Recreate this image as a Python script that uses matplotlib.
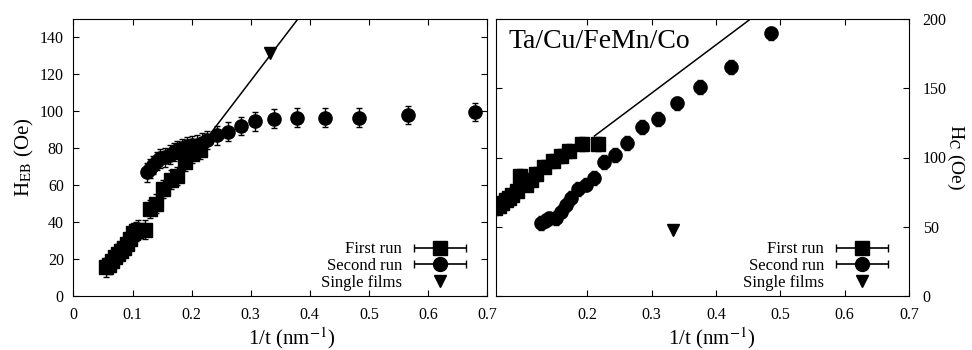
import numpy as np
import matplotlib
matplotlib.use('Agg')
import matplotlib.pyplot as plt
from matplotlib.container import ErrorbarContainer
from matplotlib.legend_handler import HandlerErrorbar

plt.rcParams['font.family'] = ['Liberation Serif', 'DejaVu Serif']
plt.rcParams['mathtext.fontset'] = 'stix'

# exchange bias, left panel
heb_first_x = [0.055, 0.06, 0.065, 0.07, 0.075, 0.08, 0.085, 0.09, 0.095, 0.10, 0.105, 0.11,
               0.121, 0.13, 0.14, 0.152, 0.165, 0.175, 0.189, 0.20, 0.214]
heb_first_y = [15.5, 17, 19, 21, 23, 24.5, 26, 28, 31, 34, 35, 36,
               36, 47, 50, 58, 63, 65, 72.5, 77, 79]
heb_second_x = [0.124, 0.13, 0.135, 0.141, 0.147, 0.155, 0.164, 0.17, 0.175, 0.183, 0.192, 0.2,
                0.209, 0.218, 0.226, 0.243, 0.262, 0.283, 0.308, 0.34, 0.378, 0.425, 0.484,
                0.567, 0.68]
heb_second_y = [67, 69, 71, 73, 74.5, 75, 76.5, 78, 79, 80, 81, 81.5,
                82, 83, 84.5, 87, 89, 92, 94.5, 96, 96.6, 96.6, 96.6,
                98, 99.5]
heb_single_x = [0.332]
heb_single_y = [131.5]
heb_fit_x = [0.232, 0.38]
heb_fit_y = [88, 150]

# coercivity, right panel
hc_first_x = [0.057, 0.063, 0.068, 0.073, 0.078, 0.083, 0.09, 0.096, 0.104, 0.112, 0.12,
              0.133, 0.146, 0.159, 0.172, 0.191, 0.216]
hc_first_y = [63.5, 65, 67.5, 69.5, 71, 73, 76, 86.5, 80.5, 84, 88,
              93.5, 97.5, 101, 104.5, 109.5, 109.5]
hc_second_x = [0.128, 0.134, 0.141, 0.151, 0.159, 0.167, 0.175, 0.185, 0.198, 0.211,
               0.226, 0.243, 0.261, 0.285, 0.31, 0.339, 0.376, 0.424, 0.485]
hc_second_y = [52.5, 54.5, 56, 56.5, 61, 66, 71, 77, 80.5, 85.5,
               97, 102, 110.5, 122, 128, 139, 151, 165.5, 189.5]
hc_single_x = [0.334]
hc_single_y = [48]
hc_fit_x = [0.211, 0.454]
hc_fit_y = [115.5, 200]

err_heb = 5
err_hc = 5

fig = plt.figure(figsize=(9.72, 3.5), dpi=100)
ax1 = fig.add_axes([0.0756, 0.154, 0.4254, 0.792])
ax2 = fig.add_axes([0.5103, 0.154, 0.4247, 0.792])

def draw(ax, fx, fy, sx, sy, tx, ty, lx, ly, err):
    ax.plot(lx, ly, color='black', lw=1.1)
    ax.errorbar(fx, fy, yerr=err, fmt='s', color='black', ms=9.5, capsize=2,
                elinewidth=1, capthick=1)
    ax.errorbar(sx, sy, yerr=err, fmt='o', color='black', ms=9.5, capsize=2,
                elinewidth=1, capthick=1)
    ax.plot(tx, ty, 'v', color='black', ms=9, ls='none')
    # legend proxies with horizontal bars like the original
    h1 = ax.errorbar([np.nan], [np.nan], xerr=[[1], [1]], fmt='s', color='black', ms=10,
                     capsize=3, elinewidth=1.2)
    h2 = ax.errorbar([np.nan], [np.nan], xerr=[[1], [1]], fmt='o', color='black', ms=10,
                     capsize=3, elinewidth=1.2)
    h3, = ax.plot([np.nan], [np.nan], 'v', color='black', ms=9, ls='none')
    ax.legend([h1, h2, h3], ['First run', 'Second run', 'Single films'],
              loc='lower right', bbox_to_anchor=(1 - 20 / 413, 5 / 277),
              frameon=False, markerfirst=False, borderpad=0, borderaxespad=0,
              fontsize=12, handlelength=3.2, labelspacing=0.05, handletextpad=0.7,
              handler_map={ErrorbarContainer: HandlerErrorbar(xerr_size=1.55)})
    ax.tick_params(direction='in', top=True, right=True, labelsize=11.5, length=4)
    ax.tick_params(axis='x', pad=8)

draw(ax1, heb_first_x, heb_first_y, heb_second_x, heb_second_y,
     heb_single_x, heb_single_y, heb_fit_x, heb_fit_y, err_heb)
ax1.set_xlim(0, 0.7)
ax1.set_ylim(0, 150)
ax1.set_xticks(np.arange(0, 0.71, 0.1))
ax1.set_xticklabels(['0', '0.1', '0.2', '0.3', '0.4', '0.5', '0.6', '0.7'])
ax1.set_yticks(np.arange(0, 141, 20))
ax1.tick_params(axis='y', pad=7)
ax1.set_ylabel(r'H$_{\rm EB}$ (Oe)', fontsize=15, labelpad=3)
ax1.set_xlabel(r'1/t (nm$^{-1}$)', fontsize=15)
ax1.xaxis.set_label_coords(0.528, -0.105)

draw(ax2, hc_first_x, hc_first_y, hc_second_x, hc_second_y,
     hc_single_x, hc_single_y, hc_fit_x, hc_fit_y, err_hc)
ax2.set_xlim(0.058, 0.7)
ax2.set_ylim(0, 200)
ax2.set_xticks(np.arange(0.2, 0.71, 0.1))
ax2.set_xticklabels(['0.2', '0.3', '0.4', '0.5', '0.6', '0.7'])
ax2.set_yticks(np.arange(0, 201, 50))
ax2.yaxis.tick_right()
ax2.yaxis.set_label_position('right')
ax2.tick_params(axis='y', direction='in', left=True, right=True,
                labelleft=False, labelright=True, pad=10)
ax2.set_ylabel(r'H$_{\rm C}$ (Oe)', fontsize=14, rotation=270, labelpad=14)
ax2.set_xlabel(r'1/t (nm$^{-1}$)', fontsize=15)
ax2.xaxis.set_label_coords(0.523, -0.105)
ax2.text(0.03, 0.965, 'Ta/Cu/FeMn/Co', transform=ax2.transAxes, fontsize=20,
         ha='left', va='top')

fig.savefig('out.png', dpi=100)
